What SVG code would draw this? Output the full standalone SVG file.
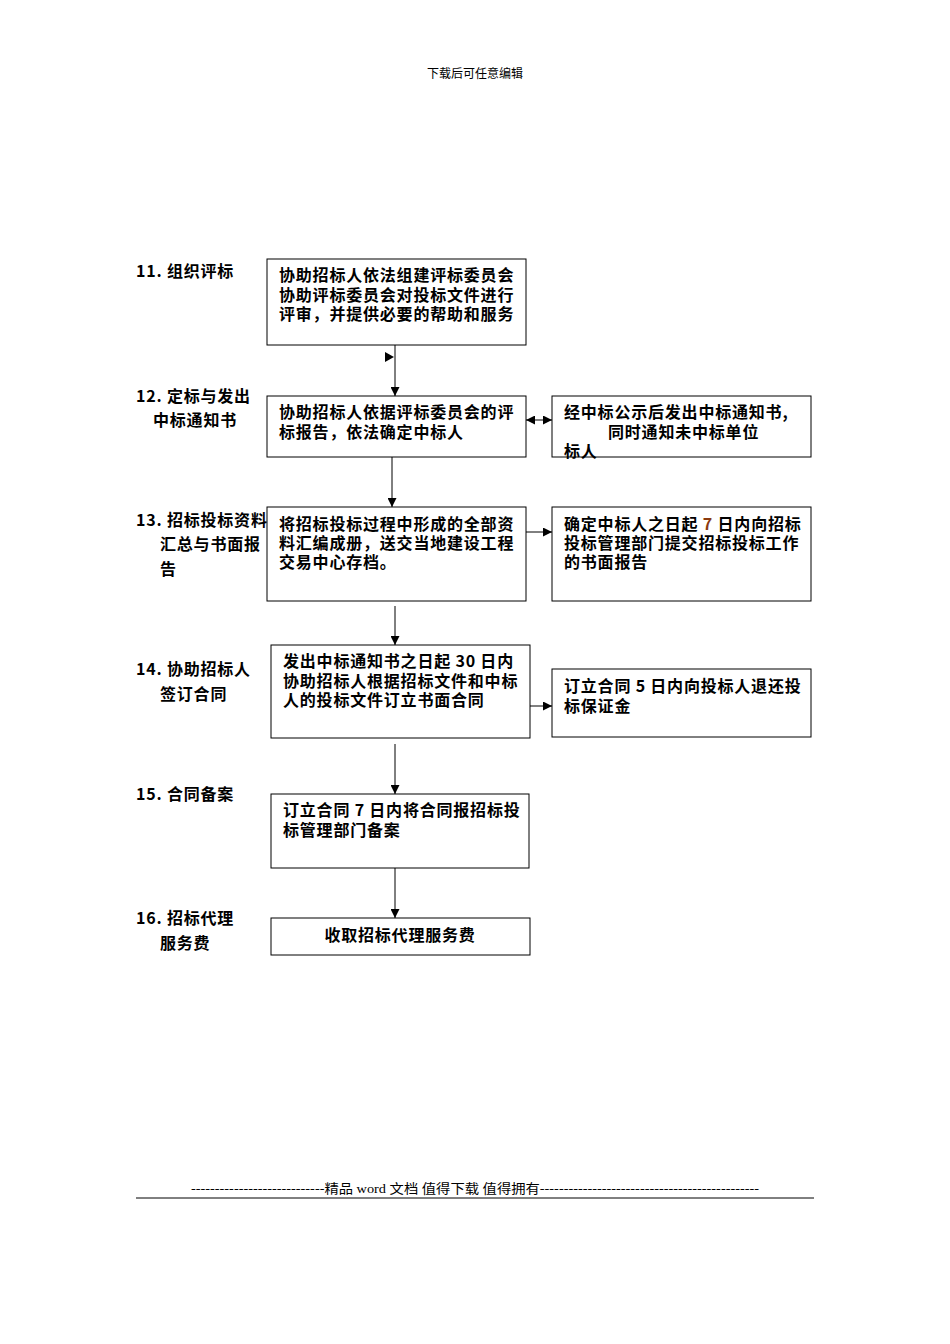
<svg xmlns="http://www.w3.org/2000/svg" width="950" height="1344" viewBox="0 0 950 1344">
<defs>
<marker id="ah" viewBox="0 0 10 10" refX="10" refY="5" markerWidth="9" markerHeight="9" markerUnits="userSpaceOnUse" orient="auto-start-reverse"><path d="M0,0L10,5L0,10z" fill="#000"/></marker>
<style>
text{font-family:"Noto Sans CJK SC","Liberation Serif",serif;font-size:16px;letter-spacing:0.8px;font-weight:bold;fill:#000}
.box{fill:#fff;stroke:#000;stroke-width:1}
.c{stroke:#000;stroke-width:1;fill:none}
.sm{font-size:12px;font-weight:normal;letter-spacing:0}
</style>
</defs>
<rect width="950" height="1344" fill="#fff"/>
<text class="sm" x="475" y="78" text-anchor="middle">下载后可任意编辑</text>
<g id="labels">
<text x="136" y="277">11. 组织评标</text>
<text x="136" y="402">12. 定标与发出</text>
<text x="153" y="426">中标通知书</text>
<text x="136" y="526">13. 招标投标资料</text>
<text x="160" y="550">汇总与书面报</text>
<text x="160" y="575">告</text>
<text x="136" y="675">14. 协助招标人</text>
<text x="160" y="700">签订合同</text>
<text x="136" y="800">15. 合同备案</text>
<text x="136" y="924">16. 招标代理</text>
<text x="160" y="949">服务费</text>
</g>
<g id="n11"><rect class="box" x="267" y="259" width="259" height="86"/>
<text x="279" y="281">协助招标人依法组建评标委员会</text><text x="279" y="301">协助评标委员会对投标文件进行</text><text x="279" y="320">评审，并提供必要的帮助和服务</text></g>
<g id="n12"><rect class="box" x="267" y="396" width="259" height="61"/>
<text x="279" y="418">协助招标人依据评标委员会的评</text><text x="279" y="438">标报告，依法确定中标人</text></g>
<g id="n12r"><rect class="box" x="552" y="396" width="259" height="61"/>
<text x="564" y="418">经中标公示后发出中标通知书,</text><text x="608" y="438">同时通知未中标单位</text><text x="564" y="457">标人</text></g>
<g id="n13"><rect class="box" x="267" y="507" width="259" height="94"/>
<text x="279" y="530">将招标投标过程中形成的全部资</text><text x="279" y="549">料汇编成册，送交当地建设工程</text><text x="279" y="568">交易中心存档。</text></g>
<g id="n13r"><rect class="box" x="552" y="507" width="259" height="94"/>
<text x="564" y="530">确定中标人之日起 <tspan fill="#8b3a0f">7</tspan> 日内向招标</text><text x="564" y="549">投标管理部门提交招标投标工作</text><text x="564" y="568">的书面报告</text></g>
<g id="n14"><rect class="box" x="271" y="645" width="259" height="93"/>
<text x="283" y="667">发出中标通知书之日起 30 日内</text><text x="283" y="687">协助招标人根据招标文件和中标</text><text x="283" y="706">人的投标文件订立书面合同</text></g>
<g id="n14r"><rect class="box" x="552" y="669" width="259" height="68"/>
<text x="564" y="692">订立合同 5 日内向投标人退还投</text><text x="564" y="712">标保证金</text></g>
<g id="n15"><rect class="box" x="271" y="794" width="258" height="74"/>
<text x="283" y="816">订立合同 7 日内将合同报招标投</text><text x="283" y="836">标管理部门备案</text></g>
<g id="n16"><rect class="box" x="271" y="918" width="259" height="37"/>
<text x="400" y="941" text-anchor="middle">收取招标代理服务费</text></g>
<g id="connectors">
<line class="c" x1="395" y1="345" x2="395" y2="396" marker-end="url(#ah)"/>
<path d="M385,352L394,357L385,362z" fill="#000"/>
<line class="c" x1="526" y1="420" x2="552" y2="420" marker-start="url(#ah)" marker-end="url(#ah)"/>
<line class="c" x1="392" y1="457" x2="392" y2="507" marker-end="url(#ah)"/>
<line class="c" x1="526" y1="532" x2="552" y2="532" marker-end="url(#ah)"/>
<line class="c" x1="395" y1="606" x2="395" y2="645" marker-end="url(#ah)"/>
<line class="c" x1="530" y1="706" x2="552" y2="706" marker-end="url(#ah)"/>
<line class="c" x1="395" y1="744" x2="395" y2="794" marker-end="url(#ah)"/>
<line class="c" x1="395" y1="868" x2="395" y2="918" marker-end="url(#ah)"/>
</g>
<text class="sm" x="191" y="1193" textLength="568" lengthAdjust="spacingAndGlyphs" style="font-family:'Liberation Serif','Noto Sans CJK SC',serif;font-size:13px">----------------------------精品 word 文档 值得下载 值得拥有----------------------------------------------</text>
<line x1="136" y1="1198" x2="814" y2="1198" stroke="#000" stroke-width="1"/>
</svg>
